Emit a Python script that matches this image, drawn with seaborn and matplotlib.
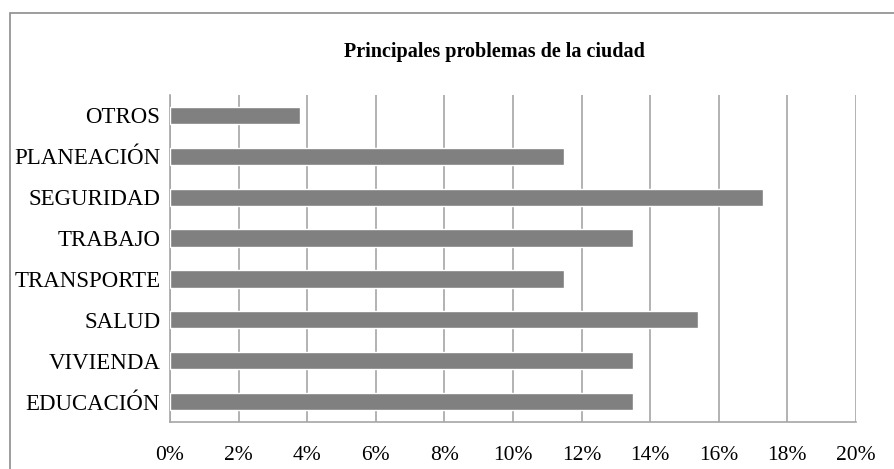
import matplotlib
matplotlib.use("Agg")
import matplotlib.pyplot as plt
import seaborn as sns
import pandas as pd
from matplotlib.patches import Rectangle
from matplotlib.ticker import FuncFormatter

# Datos del gráfico (de arriba hacia abajo)
categorias = ["OTROS", "PLANEACIÓN", "SEGURIDAD", "TRABAJO",
              "TRANSPORTE", "SALUD", "VIVIENDA", "EDUCACIÓN"]
porcentajes = [3.8, 11.5, 17.3, 13.5, 11.5, 15.4, 13.5, 13.5]
ticks_x = [0, 2, 4, 6, 8, 10, 12, 14, 16, 18, 20]

data = pd.DataFrame({"Problema": categorias, "Porcentaje": porcentajes})

sns.set_style("white")
plt.rcParams["font.family"] = ["Liberation Serif", "DejaVu Serif"]

fig = plt.figure(figsize=(8.95, 4.69), dpi=100)
W, H = 895, 469
ax = fig.add_axes([170 / W, 1 - 422 / H, (856 - 170) / W, (422 - 95) / H])

sns.barplot(data=data, x="Porcentaje", y="Problema", orient="h",
            color="#808080", saturation=1, width=0.42, ax=ax, zorder=3)

ax.set_xlim(0, 20)
ax.set_ylim(len(categorias) - 0.5, -0.5)
ax.set_xticks(ticks_x)
ax.xaxis.set_major_formatter(FuncFormatter(lambda v, p: f"{v:.0f}%"))
ax.grid(axis="x", color="#a6a6a6", linewidth=1.2, zorder=0)
ax.grid(axis="y", visible=False)

for s in ["top", "right"]:
    ax.spines[s].set_visible(False)
for s in ["left", "bottom"]:
    ax.spines[s].set_color("#a6a6a6")
    ax.spines[s].set_linewidth(1.2)

ax.tick_params(axis="y", length=0, pad=7, labelsize=16.5, colors="black")
ax.tick_params(axis="x", length=0, pad=17, labelsize=15.5, colors="black")
ax.set_xlabel("")
ax.set_ylabel("")

fig.text(494 / W, 1 - 52 / H, "Principales problemas de la ciudad",
         ha="center", va="center", fontsize=14.5, fontweight="bold",
         color="black")

# Marco del gráfico
fig.patches.append(Rectangle((10 / W, -0.1), 1.1, 1 - 13 / H + 0.1,
                             transform=fig.transFigure, fill=False,
                             edgecolor="#8c8c8c", linewidth=1.2))

fig.savefig("out.png", dpi=100)
